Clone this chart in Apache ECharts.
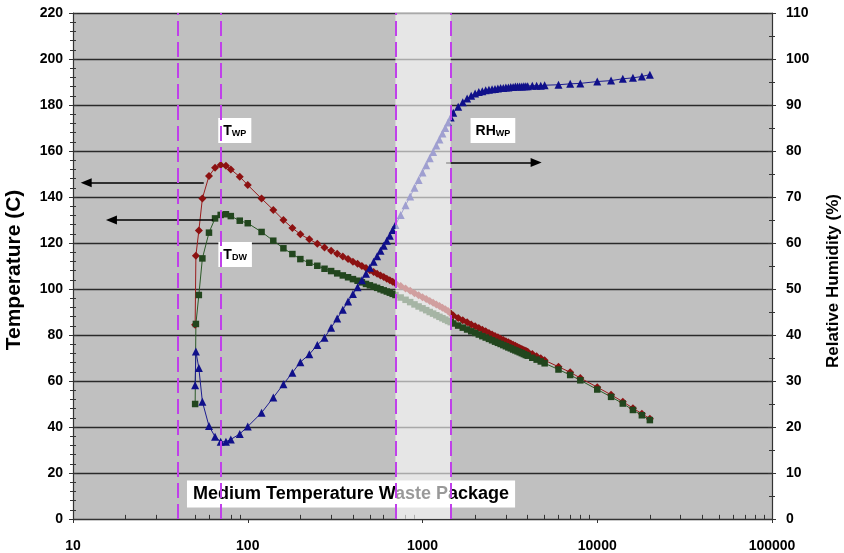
<!DOCTYPE html>
<html>
<head>
<meta charset="utf-8">
<script src="https://cdn.jsdelivr.net/npm/echarts@6/dist/echarts.min.js"></script>
<style>
  html, body { margin: 0; padding: 0; background: #ffffff; }
  #chart { width: 844px; height: 553px; }
</style>
</head>
<body>
<div id="chart"></div>
<script>
// Time after emplacement (years)
const years = [50, 50.5, 52.5, 55, 60, 65, 70, 75, 80, 90, 100, 120, 140, 160, 180, 200, 225, 250, 275,
  300, 325, 350, 375, 400, 425, 450, 475, 500, 525, 550, 575, 600, 625, 650, 675, 700,
  750, 800, 850, 900, 950, 1000, 1050, 1100, 1150, 1200, 1250, 1300, 1350, 1400, 1450,
  1500, 1600, 1700, 1800, 1900, 2000, 2100, 2200, 2300, 2400, 2500, 2600, 2700, 2800, 2900, 3000,
  3100, 3200, 3300, 3400, 3500, 3600, 3700, 3800, 3900, 4000, 4250, 4500, 4750,
  5000, 6000, 7000, 8000, 10000, 12000, 14000, 16000, 18000, 20000];

// Waste package temperature (C)
const tWP = [84.5, 114.5, 125.4, 139.4, 149.1, 152.7, 153.9, 153.6, 152.0, 148.8, 145.2, 139.3, 134.4, 130.0, 126.5, 123.8, 121.6, 119.7, 118.0,
  116.6, 115.3, 114.1, 113.0, 111.9, 111.0, 110.0, 109.1, 108.2, 107.4, 106.6, 105.9, 105.2, 104.5, 103.8, 103.1, 102.5,
  101.3, 100.2, 99.2, 98.2, 97.3, 96.4, 95.6, 94.8, 94.0, 93.3, 92.6, 91.9, 91.2, 90.4, 89.3,
  88.5, 87.4, 86.4, 85.5, 84.6, 83.8, 83.0, 82.3, 81.6, 80.9, 80.2, 79.6, 79.0, 78.4, 77.8, 77.3,
  76.8, 76.3, 75.8, 75.3, 74.8, 74.4, 73.9, 73.5, 73.1, 72.7, 71.7, 70.8, 69.9,
  69.0, 66.2, 63.8, 61.3, 57.3, 54.0, 51.0, 48.2, 45.8, 43.6];

// Drift wall temperature (C)
const tDW = [50.0, 84.8, 97.4, 113.3, 124.5, 130.7, 132.2, 132.5, 131.7, 129.7, 128.6, 124.8, 121.0, 117.7, 115.2, 113.0, 111.4, 110.1, 108.8,
  107.8, 106.8, 105.9, 105.1, 104.3, 103.6, 102.9, 102.2, 101.6, 101.0, 100.5, 99.9, 99.4, 98.9, 98.4, 97.9, 97.4,
  96.3, 95.3, 94.3, 93.3, 92.4, 91.6, 90.8, 90.0, 89.3, 88.6, 87.9, 87.3, 86.7, 86.1, 85.6,
  85.0, 84.1, 83.2, 82.4, 81.6, 80.9, 80.2, 79.5, 78.9, 78.3, 77.7, 77.1, 76.6, 76.1, 75.6, 75.1,
  74.6, 74.2, 73.7, 73.3, 72.9, 72.5, 72.1, 71.7, 71.3, 71.0, 70.1, 69.3, 68.5,
  67.7, 65.0, 62.6, 60.3, 56.3, 53.1, 50.2, 47.4, 45.1, 43.0];

// Relative humidity at the waste package (%)
const rhWP = [29.1, 36.4, 32.8, 25.5, 20.2, 17.9, 16.8, 16.8, 17.3, 18.5, 20.1, 23.1, 26.4, 29.3, 31.8, 34.1, 35.8, 37.8, 39.4,
  41.6, 43.6, 45.5, 47.3, 48.9, 50.4, 51.9, 53.3, 54.6, 55.9, 57.1, 58.3, 59.4, 60.5, 61.6, 62.8, 63.9,
  66.1, 68.2, 70.1, 72.0, 73.7, 75.3, 76.9, 78.4, 79.8, 81.2, 82.5, 83.8, 85.0, 86.2, 87.3,
  88.3, 89.6, 90.6, 91.4, 92.0, 92.5, 92.8, 93.0, 93.2, 93.3, 93.4, 93.5, 93.6, 93.7, 93.7, 93.8,
  93.8, 93.9, 93.9, 94.0, 94.0, 94.0, 94.0, 94.1, 94.1, 94.1, 94.2, 94.2, 94.2,
  94.3, 94.4, 94.6, 94.7, 95.1, 95.3, 95.7, 95.9, 96.2, 96.6];

// Axis ranges and tick spacing
const xRange = [10, 100000];
const tempRange = [0, 220];
const tempStep = 20;
const rhRange = [0, 110];
const rhStep = 10;

// Vertical reference lines (years) and the shaded period
const guideYears = [40, 70, 700, 1450];
const bandYears = [700, 1450];

// Direction arrows: [from year, to year, temperature level]
const arrowTWP = [56, 11.9, 146.2];
const arrowTDW = [63.4, 16.6, 130];
const arrowRH = [1365, 4470, 155];

// Callout labels: [year, temperature level]
const calloutTWP = [84.3, 168.9];
const calloutTDW = [84.7, 115.0];
const calloutRH = [2529, 168.9];
const calloutTitle = [390, 10.9];
const titleText = 'Medium Temperature Waste Package';

const FONT = "'Liberation Sans', Arial, sans-serif";

// minor tick positions on the log axis (2..9 per decade)
const minorYears = [];
for (let d = 10; d < xRange[1]; d *= 10) {
  for (let k = 2; k <= 9; k++) minorYears.push(d * k);
}

const chart = echarts.init(document.getElementById('chart'), null, { renderer: 'canvas' });

const tickLabel = { color: '#000', fontFamily: FONT, fontWeight: 'bold', fontSize: 14 };
const axisLineStyle = { lineStyle: { color: '#333', width: 1.2 } };

function arrowLine(a) {
  return [{ coord: [a[0], a[2]] }, { coord: [a[1], a[2]] }];
}

function callout(pos, text) {
  return {
    coord: pos,
    label: { formatter: text }
  };
}

const subRich = {
  m: { fontFamily: FONT, fontWeight: 'bold', fontSize: 14, color: '#000', verticalAlign: 'bottom', lineHeight: 15 },
  s: { fontFamily: FONT, fontWeight: 'bold', fontSize: 9, color: '#000', verticalAlign: 'bottom', lineHeight: 15 }
};

const option = {
  animation: false,
  backgroundColor: '#ffffff',
  grid: {
    left: 73, right: 72, top: 13, bottom: 34, containLabel: false, outerBoundsMode: 'none',
    show: true, backgroundColor: '#c0c0c0', borderWidth: 0
  },
  xAxis: [
    {
      type: 'log', logBase: 10, min: xRange[0], max: xRange[1],
      axisLine: axisLineStyle,
      axisTick: { show: true, inside: false, length: 4, lineStyle: { color: '#333' } },
      axisLabel: Object.assign({ margin: 20, formatter: v => String(Math.round(v)) }, tickLabel),
      splitLine: { show: false }
    },
    {
      type: 'log', logBase: 10, min: xRange[0], max: xRange[1],
      axisLine: { show: false },
      axisTick: { show: true, inside: true, length: 4, lineStyle: { color: '#333' } },
      axisLabel: { show: false },
      splitLine: { show: false }
    }
  ],
  yAxis: [
    {
      type: 'value', position: 'left', min: tempRange[0], max: tempRange[1], interval: tempStep,
      name: 'Temperature (C)', nameLocation: 'middle', nameRotate: 90, nameGap: 48,
      nameTextStyle: { fontFamily: FONT, fontWeight: 'bold', fontSize: 21, color: '#000', padding: [0, 8, 0, 0] },
      axisLine: Object.assign({ show: true }, axisLineStyle),
      axisTick: { show: true, inside: false, length: 4, lineStyle: { color: '#333' } },
      minorTick: { show: true, splitNumber: 5, length: 3, lineStyle: { color: '#333' } },
      axisLabel: Object.assign({ margin: 10 }, tickLabel),
      splitLine: { show: true, lineStyle: { color: '#2a2a2a', width: 1.4 } }
    },
    {
      type: 'value', position: 'right', min: rhRange[0], max: rhRange[1], interval: rhStep,
      name: 'Relative Humidity (%)', nameLocation: 'middle', nameRotate: 90, nameGap: 53,
      nameTextStyle: { fontFamily: FONT, fontWeight: 'bold', fontSize: 17, color: '#000', padding: [0, 30, 0, 0] },
      axisLine: Object.assign({ show: true }, axisLineStyle),
      axisTick: { show: true, inside: false, length: 4, lineStyle: { color: '#333' } },
      minorTick: { show: true, splitNumber: 2, length: 3, lineStyle: { color: '#333' } },
      axisLabel: Object.assign({ margin: 14 }, tickLabel),
      splitLine: { show: false }
    },
    {
      type: 'value', position: 'left', min: tempRange[0], max: tempRange[1], interval: tempStep,
      axisLine: { show: false },
      axisTick: { show: true, inside: true, length: 4, lineStyle: { color: '#333' } },
      minorTick: { show: true, splitNumber: 5, length: 3, lineStyle: { color: '#333' } },
      axisLabel: { show: false },
      splitLine: { show: false }
    },
    {
      type: 'value', position: 'right', min: rhRange[0], max: rhRange[1], interval: rhStep,
      axisLine: { show: false },
      axisTick: { show: true, inside: true, length: 4, lineStyle: { color: '#333' } },
      minorTick: { show: true, splitNumber: 2, length: 3, lineStyle: { color: '#333' } },
      axisLabel: { show: false },
      splitLine: { show: false }
    }
  ],
  series: [
    {
      name: 'TWP', type: 'line', xAxisIndex: 0, yAxisIndex: 0, z: 3,
      data: years.map((t, i) => [t, tWP[i]]),
      symbol: 'diamond', symbolSize: 8,
      itemStyle: { color: '#8c1111' },
      lineStyle: { color: '#9a1c1c', width: 1 }
    },
    {
      name: 'TDW', type: 'line', xAxisIndex: 0, yAxisIndex: 0, z: 3,
      data: years.map((t, i) => [t, tDW[i]]),
      symbol: 'rect', symbolSize: 6.5,
      itemStyle: { color: '#22461e' },
      lineStyle: { color: '#2c5a28', width: 1 }
    },
    {
      name: 'RHWP', type: 'line', xAxisIndex: 0, yAxisIndex: 1, z: 3,
      data: years.map((t, i) => [t, rhWP[i]]),
      symbol: 'triangle', symbolSize: 8,
      itemStyle: { color: '#10108a' },
      lineStyle: { color: '#1c1c90', width: 1 }
    },
    {
      // log-axis minor ticks, callouts and direction arrows
      name: 'notes', type: 'line', xAxisIndex: 0, yAxisIndex: 0, z: 4, silent: true,
      data: [],
      markLine: {
        silent: true, animation: false, z: 4,
        symbol: ['none', 'triangle'], symbolSize: [9, 11],
        label: { show: false },
        lineStyle: { color: '#000', type: 'solid', width: 1.5 },
        data: [
          arrowLine(arrowTWP),
          arrowLine(arrowTDW),
          arrowLine(arrowRH)
        ].concat(minorYears.map(v => [
          { coord: [v, 0], symbol: 'none', lineStyle: { color: '#333', width: 1 } },
          { coord: [v, 1.8], symbol: 'none' }
        ]))
      },
      markPoint: {
        silent: true, animation: false, z: 4,
        symbol: 'circle', symbolSize: 1,
        itemStyle: { color: 'rgba(0,0,0,0)' },
        label: {
          show: true, position: 'inside',
          backgroundColor: '#ffffff', padding: [5, 5, 5, 5],
          rich: subRich
        },
        data: [
          callout(calloutTWP, '{m|T}{s|WP}'),
          callout(calloutTDW, '{m|T}{s|DW}'),
          callout(calloutRH, '{m|RH}{s|WP}'),
          {
            coord: calloutTitle,
            label: {
              formatter: titleText,
              fontFamily: FONT, fontWeight: 'bold', fontSize: 18, color: '#000',
              padding: [5, 6, 4, 6]
            }
          }
        ]
      }
    },
    {
      // shaded period, drawn over the curves
      name: 'band', type: 'line', xAxisIndex: 0, yAxisIndex: 0, z: 10, silent: true,
      data: [],
      markArea: {
        silent: true, animation: false, z: 10,
        itemStyle: { color: 'rgba(255,255,255,0.6)' },
        data: [[{ coord: [bandYears[0], tempRange[0]] }, { coord: [bandYears[1], tempRange[1]] }]]
      }
    },
    {
      // vertical dashed reference lines
      name: 'guides', type: 'line', xAxisIndex: 0, yAxisIndex: 0, z: 12, silent: true,
      data: [],
      markLine: {
        silent: true, animation: false, z: 12,
        symbol: ['none', 'none'],
        label: { show: false },
        lineStyle: { color: '#c040ea', type: [15, 6], width: 2 },
        data: guideYears.map(v => ({ xAxis: v }))
      }
    }
  ]
};

chart.setOption(option);
</script>
</body>
</html>
